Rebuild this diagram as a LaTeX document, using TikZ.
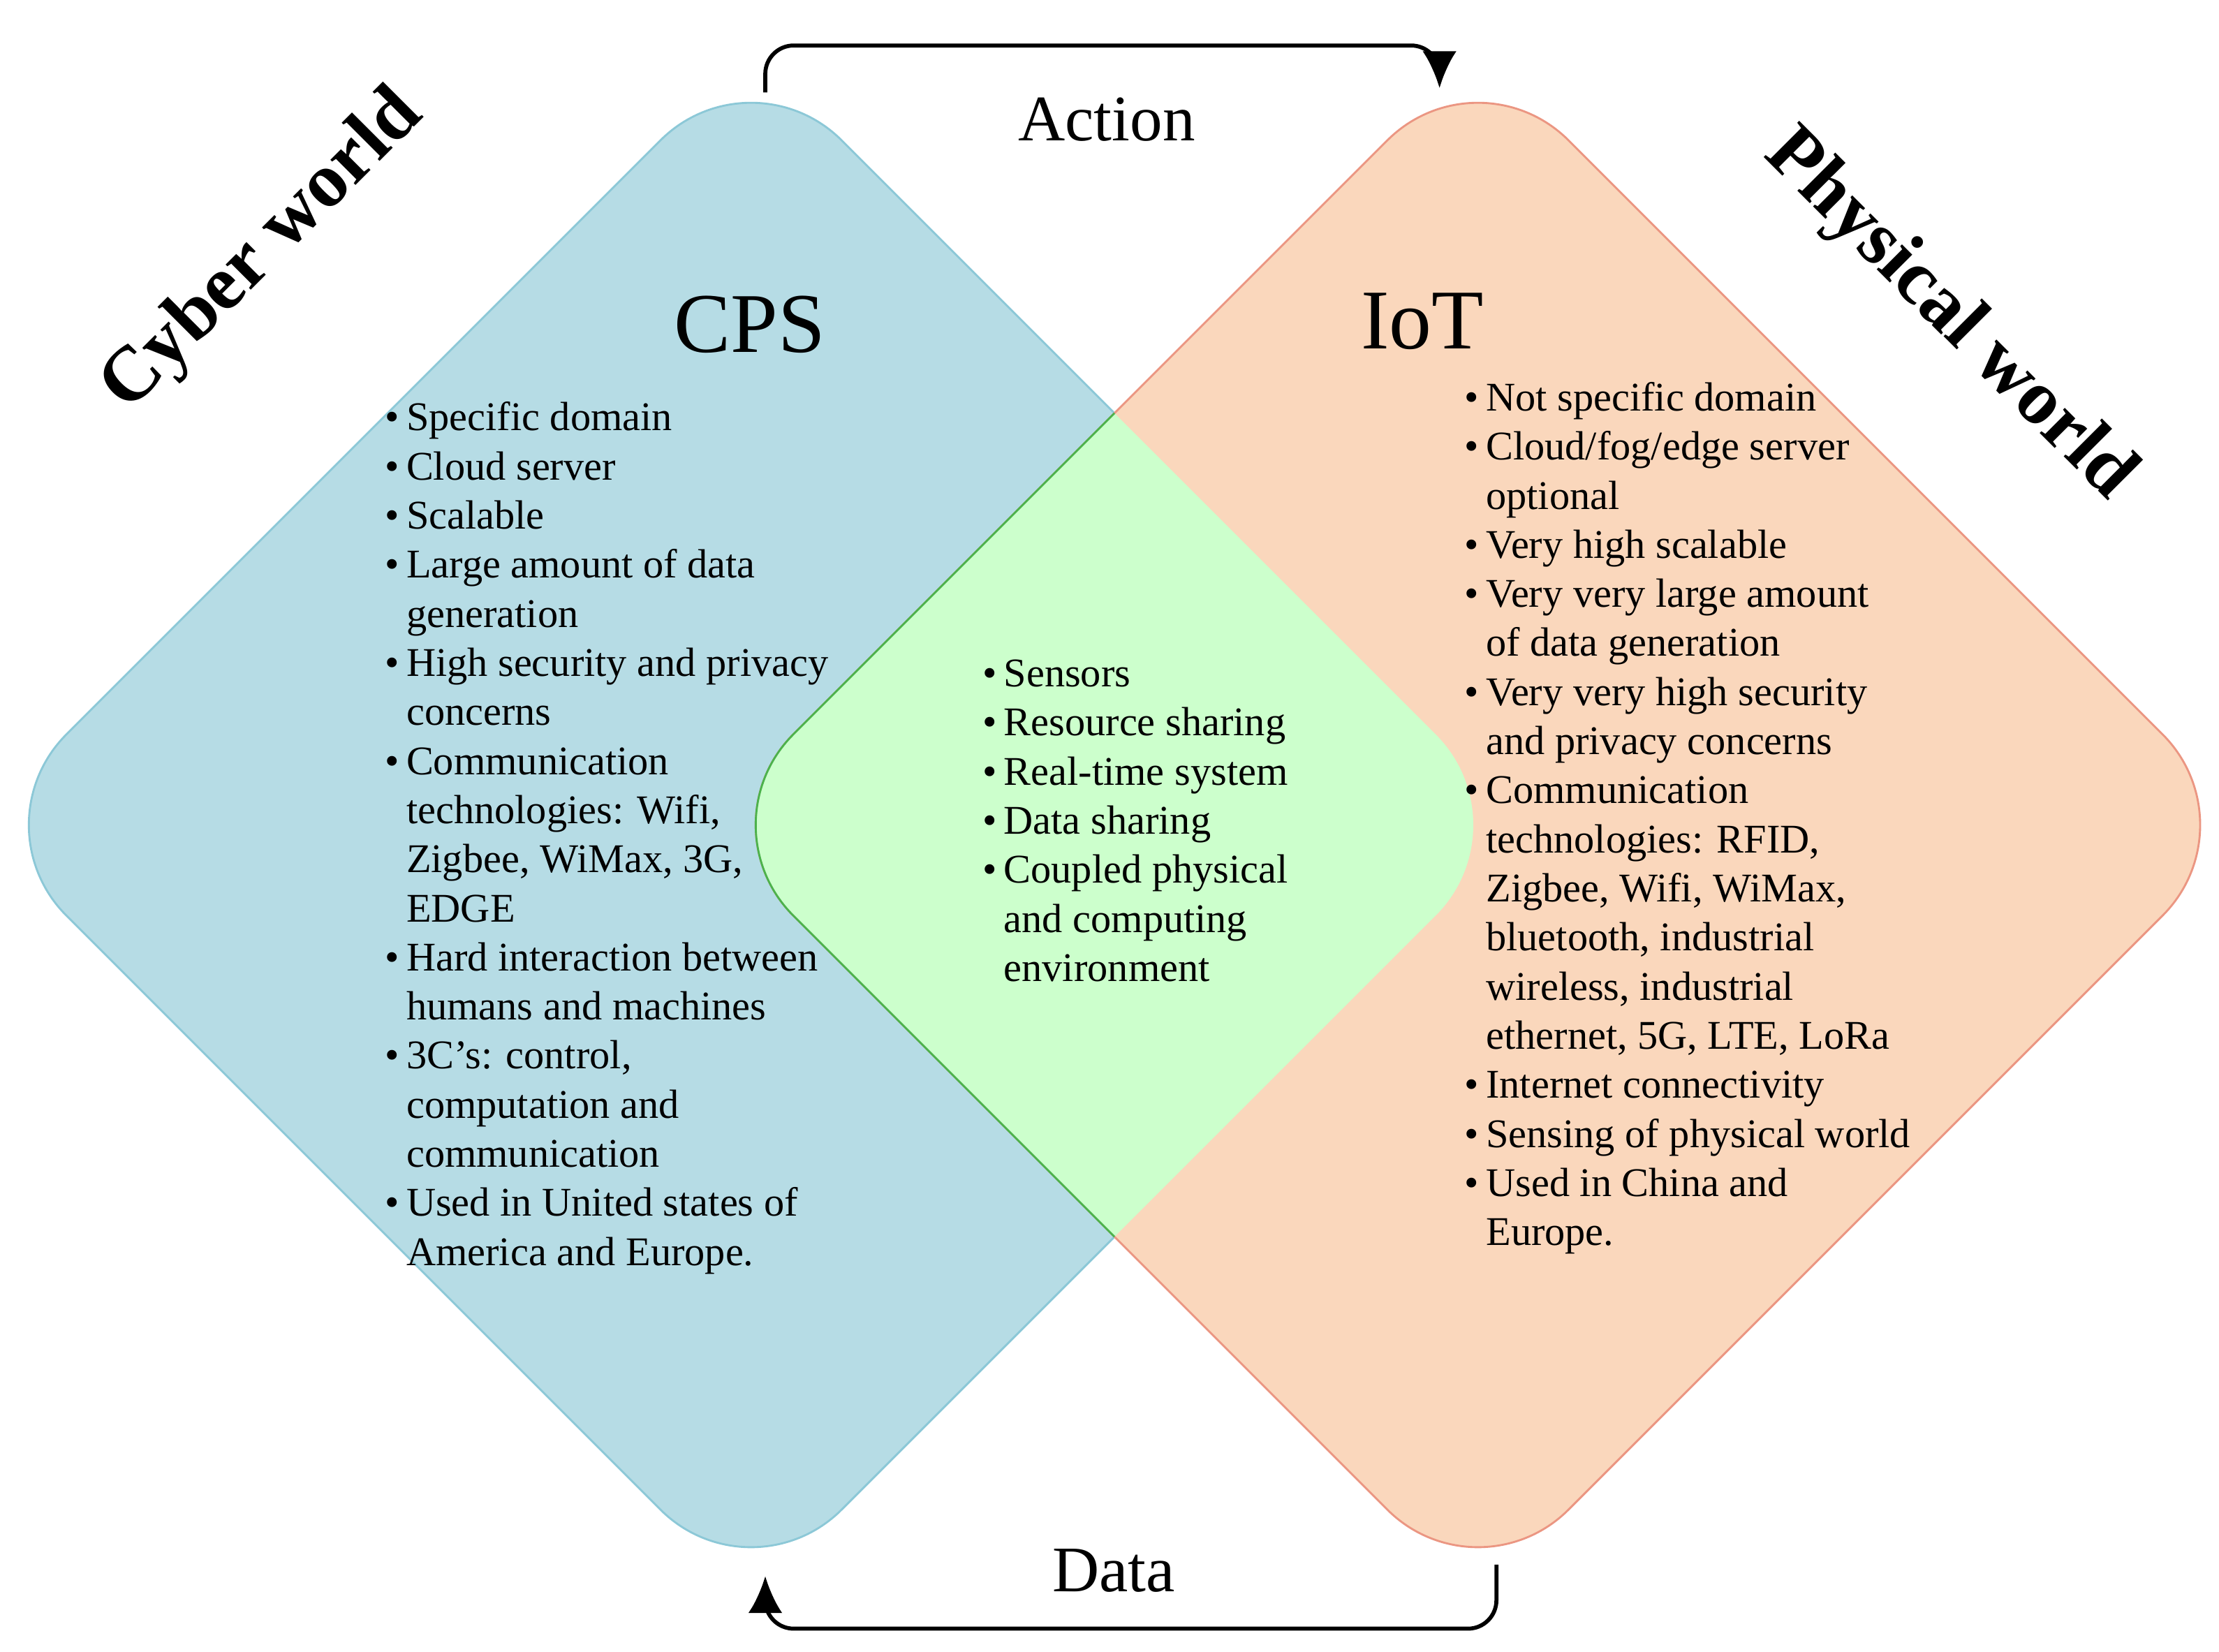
\documentclass[tikz,border=0pt]{standalone}
\usepackage{fontspec}
\setmainfont{Liberation Serif}
\usetikzlibrary{arrows.meta}
\usetikzlibrary{calc}
\tikzset{>=Latex}
\definecolor{cpsblue}{RGB}{182,220,229}
\definecolor{cpsline}{RGB}{140,200,215}
\definecolor{iotorange}{RGB}{250,215,188}
\definecolor{iotline}{RGB}{235,150,130}
\definecolor{bothgreen}{RGB}{204,255,204}
\tikzset{
  listtext/.style={anchor=north west, inner sep=0pt, font=\fontsize{8.15}{9.82}\selectfont},
  flowarrow/.style={-{Latex[length=2.6mm,width=2.4mm]}, thick, rounded corners=2mm},
}
\newcommand{\bul}{\textbullet}
\begin{document}
\begin{tikzpicture}
    \useasboundingbox (0,0) rectangle (15.6,11.61);
    % Define centres of the two worlds
    \coordinate (C) at (5.28,5.81);
    \coordinate (I) at (10.39,5.81);

    % Cyber side and physical side
    \filldraw[draw=cpsline, fill=cpsblue, rounded corners=0.9cm]
      ($(C)+(-5.45,0)$) -- ($(C)+(0,5.45)$) -- ($(C)+(5.45,0)$) -- ($(C)+(0,-5.45)$) -- cycle;
    \filldraw[draw=iotline, fill=iotorange, rounded corners=0.9cm]
      ($(I)+(-5.45,0)$) -- ($(I)+(0,5.45)$) -- ($(I)+(5.45,0)$) -- ($(I)+(0,-5.45)$) -- cycle;

    % Common part
    \begin{scope}
      \clip[rounded corners=0.9cm]
        ($(C)+(-5.45,0)$) -- ($(C)+(0,5.45)$) -- ($(C)+(5.45,0)$) -- ($(C)+(0,-5.45)$) -- cycle;
      \filldraw[draw=green!40!gray, thin, fill=bothgreen, rounded corners=0.9cm]
        ($(I)+(-5.45,0)$) -- ($(I)+(0,5.45)$) -- ($(I)+(5.45,0)$) -- ($(I)+(0,-5.45)$) -- cycle;
    \end{scope}

    % Titles
    \node (cps) at (5.27,9.33) {\fontsize{17}{20}\selectfont CPS};
    \node (iot) at (10.0,9.35) {\fontsize{17}{20}\selectfont IoT};
    \node[rotate=45] (cyber) at (1.85,9.84) {\fontsize{15.5}{18}\selectfont\bfseries Cyber world};
    \node[rotate=-45] (phys) at (13.7,9.39) {\fontsize{15.5}{18}\selectfont\bfseries Physical world};
    \node (action) at (7.78,10.77) {\fontsize{13}{15}\selectfont Action};
    \node (data) at (7.83,0.57) {\fontsize{13}{15}\selectfont Data};

    % Lists
    \node[listtext] (cpslist) at (2.70,8.83) {%
      \begin{tabular}{@{}l@{\hspace{0.5mm}}l@{}}
      \bul & Specific domain\\
      \bul & Cloud server\\
      \bul & Scalable\\
      \bul & Large amount of data\\
           & generation\\
      \bul & High security and privacy\\
           & concerns\\
      \bul & Communication\\
           & technologies: Wifi,\\
           & Zigbee, WiMax, 3G,\\
           & EDGE\\
      \bul & Hard interaction between\\
           & humans and machines\\
      \bul & 3C’s: control,\\
           & computation and\\
           & communication\\
      \bul & Used in United states of\\
           & America and Europe.
      \end{tabular}};
    \node[listtext] (bothlist) at (6.90,7.03) {%
      \begin{tabular}{@{}l@{\hspace{0.5mm}}l@{}}
      \bul & Sensors\\
      \bul & Resource sharing\\
      \bul & Real-time system\\
      \bul & Data sharing\\
      \bul & Coupled physical\\
           & and computing\\
           & environment
      \end{tabular}};
    \node[listtext] (iotlist) at (10.29,8.97) {%
      \begin{tabular}{@{}l@{\hspace{0.5mm}}l@{}}
      \bul & Not specific domain\\
      \bul & Cloud/fog/edge server\\
           & optional\\
      \bul & Very high scalable\\
      \bul & Very very large amount\\
           & of data generation\\
      \bul & Very very high security\\
           & and privacy concerns\\
      \bul & Communication\\
           & technologies: RFID,\\
           & Zigbee, Wifi, WiMax,\\
           & bluetooth, industrial\\
           & wireless, industrial\\
           & ethernet, 5G, LTE, LoRa\\
      \bul & Internet connectivity\\
      \bul & Sensing of physical world\\
      \bul & Used in China and\\
           & Europe.
      \end{tabular}};

    % Action and data loops
    \coordinate (actfrom) at (5.38,10.96);
    \coordinate (actto) at (10.12,10.99);
    \coordinate (datfrom) at (10.52,0.61);
    \coordinate (datto) at (5.38,0.53);
    \draw[flowarrow] (actfrom) |- (7.8,11.29) -| (actto);
    \draw[flowarrow] (datfrom) |- (7.8,0.16) -| (datto);
\end{tikzpicture}
\end{document}
